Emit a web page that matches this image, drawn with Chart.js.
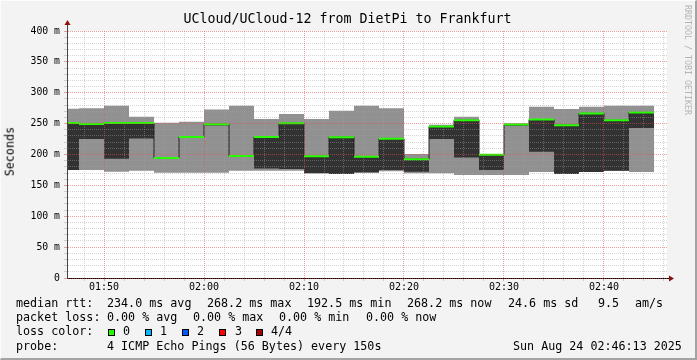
<!DOCTYPE html>
<html>
<head>
<meta charset="utf-8">
<title>UCloud/UCloud-12 from DietPi to Frankfurt</title>
<script src="https://cdn.jsdelivr.net/npm/chart.js@4.4.1/dist/chart.umd.min.js"></script>
<style>
  html, body { margin: 0; padding: 0; background: #f3f3f3; }
  #frame { position: relative; width: 697px; height: 360px; overflow: hidden; }
  #frame canvas { position: absolute; left: 0; top: 0; }
  #edge { position: absolute; left: 0; top: 0; width: 697px; height: 360px; box-sizing: border-box;
    border-top: 1px solid #fcfcfc; border-left: 1px solid #fcfcfc;
    border-right: 2px solid #a3a3a3; border-bottom: 2px solid #a3a3a3; pointer-events: none; }
  .t { position: absolute; font-family: 'DejaVu Sans Mono', monospace; white-space: pre; line-height: 1; color: #000; }
  .f { font-size: 11.7px; }
  .box { position: absolute; width: 5px; height: 5px; border: 1px solid #000; }
</style>
</head>
<body>
<div id="frame">
  <canvas id="smoke" width="697" height="360"></canvas>

  <div class="t" style="left:0; width:695px; text-align:center; top:12px; font-size:13.3px;">UCloud/UCloud-12 from DietPi to Frankfurt</div>
  <div class="t f" style="left:5px; top:127px; writing-mode:vertical-rl; transform:rotate(180deg);">Seconds</div>
  <div class="t" style="left:684px; top:5px; font-size:8.3px; color:#b4b4b4; writing-mode:vertical-rl;">RRDTOOL / TOBI OETIKER</div>

  <!-- legend rows -->
  <div class="t f" style="left:16px; top:298px;">median rtt:</div>
  <div class="t f" style="left:107px; top:298px;">234.0 ms avg</div>
  <div class="t f" style="left:207px; top:298px;">268.2 ms max</div>
  <div class="t f" style="left:307px; top:298px;">192.5 ms min</div>
  <div class="t f" style="left:407px; top:298px;">268.2 ms now</div>
  <div class="t f" style="left:508px; top:298px;">24.6 ms sd</div>
  <div class="t f" style="left:598px; top:298px;">9.5</div>
  <div class="t f" style="left:635px; top:298px;">am/s</div>

  <div class="t f" style="left:16px; top:312px;">packet loss:</div>
  <div class="t f" style="left:107px; top:312px;">0.00 % avg</div>
  <div class="t f" style="left:193px; top:312px;">0.00 % max</div>
  <div class="t f" style="left:279px; top:312px;">0.00 % min</div>
  <div class="t f" style="left:366px; top:312px;">0.00 % now</div>

  <div class="t f" style="left:16px; top:326px;">loss color:</div>
  <div class="box" style="left:108px; top:329px; background:#26ff00;"></div>
  <div class="t f" style="left:123px; top:326px;">0</div>
  <div class="box" style="left:145px; top:329px; background:#00b8ff;"></div>
  <div class="t f" style="left:160px; top:326px;">1</div>
  <div class="box" style="left:182px; top:329px; background:#0059ff;"></div>
  <div class="t f" style="left:197px; top:326px;">2</div>
  <div class="box" style="left:219px; top:329px; background:#ff0000;"></div>
  <div class="t f" style="left:235px; top:326px;">3</div>
  <div class="box" style="left:256px; top:329px; background:#a10000;"></div>
  <div class="t f" style="left:271px; top:326px;">4/4</div>

  <div class="t f" style="left:16px; top:341px;">probe:</div>
  <div class="t f" style="left:107px; top:341px;">4 ICMP Echo Pings (56 Bytes) every 150s</div>
  <div class="t f" style="left:513px; top:341px;">Sun Aug 24 02:46:13 2025</div>

  <div id="edge"></div>
</div>

<script>
// SmokePing graph: 4 pings per 150 s step, smoke = spread of the pings

// Step start times (each step lasts 150 s), the last one ends at slotEnd
const slotStarts = [
  '01:45:00', '01:47:30', '01:50:00', '01:52:30', '01:55:00', '01:57:30',
  '02:00:00', '02:02:30', '02:05:00', '02:07:30', '02:10:00', '02:12:30',
  '02:15:00', '02:17:30', '02:20:00', '02:22:30', '02:25:00', '02:27:30',
  '02:30:00', '02:32:30', '02:35:00', '02:37:30', '02:40:00', '02:42:30'
];
const slotEnd = '02:45:00';

// RTT in ms
const pingMax = [274, 275, 279, 261, 251.5, 253, 273, 279, 257.5, 265.5, 257.5, 271,
                 279, 275, 201, 248, 261, 201, 250.5, 277.5, 273.5, 277.5, 279, 279];
const pingMin = [175, 175, 172, 173.5, 170.5, 170.5, 170.5, 173.5, 173.5, 173.5, 169.5, 168.5,
                 171, 173, 169.5, 169.5, 167, 167, 167, 171.5, 168.5, 171.5, 173.5, 171.5];
// second ping = bottom of the dark smoke
const pingLow = [175, 225, 193, 226, 194.5, 228.5, 247, 197.5, 177.5, 176.5, 169.5, 168.5,
                 171, 175, 172, 225, 195, 175, 246.5, 204.5, 168.5, 171.5, 173.5, 243];
// median = top of the dark smoke
const medianRtt = [251, 249.5, 251, 251, 194.5, 228.5, 249, 197.5, 228.5, 250.5, 197, 228,
                   196.5, 225.5, 192.5, 245.5, 255.5, 199.5, 248.5, 256.5, 247.5, 266.5, 255.5, 268.2];

// Axis settings
const viewStart = '01:46:18';
const viewEnd = '02:46:18';
const xLabels = ['01:50', '02:00', '02:10', '02:20', '02:30', '02:40'];
const yLabels = [0, 50, 100, 150, 200, 250, 300, 350, 400];
const xMinorStep = 2;   // minutes
const yMinorStep = 10;  // ms

function toMin(s) {
  const p = s.split(':').map(Number);
  return p[0] * 60 + p[1] + (p[2] || 0) / 60;
}

const labelMinutes = xLabels.map(toMin);

// stepped series: one point per step start, last value repeated at the end
function steps(values) {
  const pts = slotStarts.map((t, i) => ({ x: toMin(t), y: values[i] }));
  pts.push({ x: toMin(slotEnd), y: values[values.length - 1] });
  return pts;
}

// horizontal median pieces only (no vertical joins)
function pieces(values) {
  const pts = [];
  slotStarts.forEach((t, i) => {
    const end = i + 1 < slotStarts.length ? slotStarts[i + 1] : slotEnd;
    pts.push({ x: toMin(t), y: values[i] }, { x: toMin(end), y: values[i] }, { x: toMin(end), y: null });
  });
  return pts;
}

const MAJOR = 'rgba(225, 80, 80, 0.55)';
const MINOR = 'rgba(160, 160, 160, 0.45)';

const plotDecor = {
  id: 'plotDecor',
  beforeDraw(chart) {
    const { ctx, chartArea: a } = chart;
    ctx.save();
    ctx.fillStyle = '#ffffff';
    ctx.fillRect(a.left, a.top, a.right - a.left, a.bottom - a.top);
    ctx.restore();
  },
  afterDraw(chart) {
    const { ctx, chartArea: a } = chart;
    const x0 = Math.round(a.left) + 0.5;
    const y0 = Math.round(a.bottom) + 0.5;
    ctx.save();
    ctx.lineWidth = 1;
    ctx.strokeStyle = '#444';
    ctx.beginPath(); ctx.moveTo(x0, a.top); ctx.lineTo(x0, a.top - 6); ctx.stroke();
    ctx.strokeStyle = '#000';
    ctx.beginPath(); ctx.moveTo(a.right, y0); ctx.lineTo(a.right + 2, y0); ctx.stroke();
    ctx.fillStyle = '#8b1010';
    ctx.beginPath();
    ctx.moveTo(x0 - 3, a.top - 6); ctx.lineTo(x0 + 3, a.top - 6); ctx.lineTo(x0, a.top - 11);
    ctx.closePath(); ctx.fill();
    ctx.beginPath();
    ctx.moveTo(a.right + 2, y0 - 3); ctx.lineTo(a.right + 2, y0 + 3); ctx.lineTo(a.right + 7, y0);
    ctx.closePath(); ctx.fill();
    ctx.restore();
  }
};

// 'before': hold a point's value until the next point, then step
const flat = { pointRadius: 0, pointHoverRadius: 0, stepped: 'before', clip: 0 };

new Chart(document.getElementById('smoke'), {
  type: 'line',
  data: {
    datasets: [
      // outer smoke: min .. max
      { ...flat, data: steps(pingMax), borderWidth: 0, fill: '+1', backgroundColor: '#919191', order: 4 },
      { ...flat, data: steps(pingMin), borderWidth: 0, fill: false, order: 4 },
      // inner smoke: 2nd ping .. median
      { ...flat, data: steps(medianRtt), borderWidth: 0, fill: '+1', backgroundColor: '#323232', order: 3 },
      { ...flat, data: steps(pingLow), borderWidth: 0, fill: false, order: 3 },
      // median joins
      { ...flat, data: steps(medianRtt), borderWidth: 1, borderColor: '#202020', fill: false, order: 2 },
      // median, 0 loss colour
      { pointRadius: 0, pointHoverRadius: 0, clip: 0, data: pieces(medianRtt), borderWidth: 2,
        borderColor: '#26ff00', borderCapStyle: 'butt', fill: false, spanGaps: false, order: 1 }
    ]
  },
  options: {
    responsive: false,
    animation: false,
    events: [],
    layout: { padding: { left: 0, top: 31, right: 30, bottom: 62 } },
    plugins: { legend: { display: false }, tooltip: { enabled: false } },
    scales: {
      x: {
        type: 'linear',
        min: toMin(viewStart),
        max: toMin(viewEnd),
        afterBuildTicks(scale) {
          const ticks = [];
          for (let v = Math.ceil(scale.min / xMinorStep) * xMinorStep; v <= scale.max; v += xMinorStep) {
            ticks.push({ value: v });
          }
          scale.ticks = ticks;
        },
        afterFit(scale) { scale.height = 20; },
        ticks: {
          autoSkip: false,
          maxRotation: 0,
          padding: 0,
          color: '#000',
          font: { family: 'DejaVu Sans Mono', size: 10 },
          callback(v) {
            const i = labelMinutes.findIndex(m => Math.abs(m - v) < 1e-6);
            return i >= 0 ? xLabels[i] : '';
          }
        },
        grid: {
          z: 1,
          tickLength: 3,
          color: ctx => labelMinutes.some(m => Math.abs(m - ctx.tick.value) < 1e-6) ? MAJOR : MINOR
        },
        border: { z: 1, color: '#000', width: 1, dash: [1, 1] }
      },
      y: {
        min: 0,
        max: 400,
        afterBuildTicks(scale) {
          const ticks = [];
          for (let v = 0; v <= 400; v += yMinorStep) ticks.push({ value: v });
          scale.ticks = ticks;
        },
        afterFit(scale) { scale.width = 67; },
        ticks: {
          autoSkip: false,
          padding: 4,
          color: '#000',
          font: { family: 'DejaVu Sans Mono', size: 9.8 },
          callback(v) {
            if (!yLabels.includes(v)) return '';
            return v === 0 ? '0' : v + ' m';
          }
        },
        grid: {
          z: 1,
          tickLength: 3,
          color: ctx => yLabels.includes(ctx.tick.value) ? MAJOR : MINOR
        },
        border: { z: 1, color: '#444', width: 1, dash: [1, 1] }
      }
    }
  },
  plugins: [plotDecor]
});
</script>
</body>
</html>
